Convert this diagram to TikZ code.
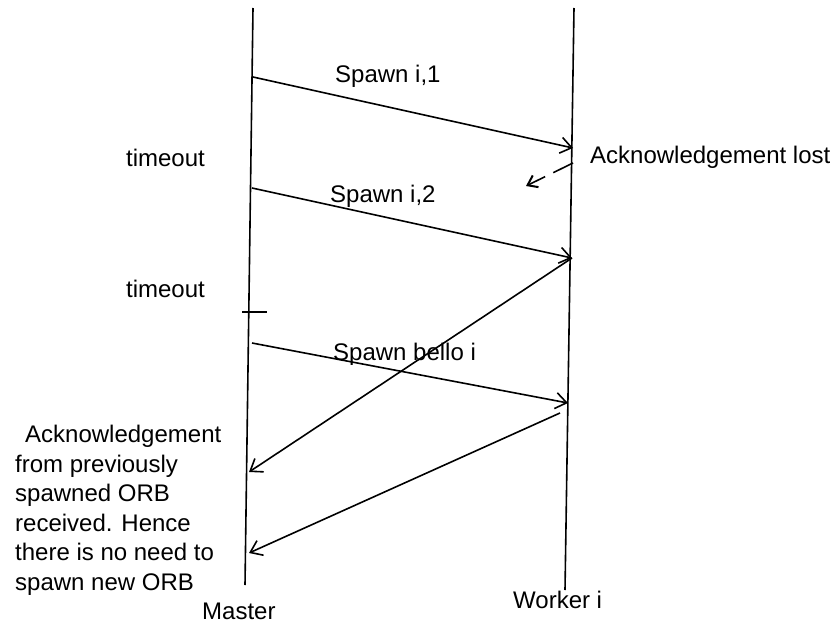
\documentclass[tikz,border=0pt]{standalone}
\usepackage{fontspec}
\setmainfont{Liberation Sans}
\usetikzlibrary{arrows.meta}
\tikzset{
  lifeline/.style={line width=1.6pt},
  msg/.style={line width=1.6pt,-{Straight Barb[length=11pt,width=16pt,line width=1.6pt]}},
  lostmsg/.style={line width=1.6pt,dash pattern=on 22pt off 9pt,-{Straight Barb[length=9pt,width=13pt,line width=2pt]}},
  lbl/.style={inner sep=0pt,font=\fontsize{24}{29.6}\selectfont},
}
\begin{document}
\begin{tikzpicture}[x=1pt,y=-1pt]
\path[use as bounding box] (0,0) rectangle (838,626);
% lifelines
\coordinate (mtop) at (253,8);
\coordinate (mbot) at (245,585);
\coordinate (wtop) at (574,8);
\coordinate (wbot) at (565,590);
\draw[lifeline] (mtop) -- (mbot);
\draw[lifeline] (wtop) -- (wbot);
% message end points
\coordinate (m1) at (253,77);
\coordinate (w1) at (573,148);
\coordinate (w1b) at (573,163);
\coordinate (lost) at (526,186);
\coordinate (m2) at (252,188);
\coordinate (w2) at (572,258);
\coordinate (m3) at (249,472);
\coordinate (m4) at (252,343);
\coordinate (w4) at (568,403);
\coordinate (w5) at (560,413);
\coordinate (m5) at (249,553);
\coordinate (tickl) at (242,312);
\coordinate (tickr) at (267,312);
% messages
\draw[msg] (m1) -- (w1);
\draw[lostmsg] (w1b) -- (lost);
\draw[msg] (m2) -- (w2);
\draw[msg] (w2) -- (m3);
\draw[msg] (m4) -- (w4);
\draw[msg] (w5) -- (m5);
\draw[lifeline] (tickl) -- (tickr);
% labels
\node[lbl,anchor=base west] (l1) at (335,82) {Spawn i,1};
\node[lbl,anchor=base east] (t1) at (205,166) {timeout};
\node[lbl,anchor=base west] (al) at (590,163) {Acknowledgement lost};
\node[lbl,anchor=base west] (l2) at (330,202) {Spawn i,2};
\node[lbl,anchor=base east] (t2) at (205,297) {timeout};
\node[lbl,anchor=base west] (l3) at (333,360) {Spawn bello i};
\node[lbl,anchor=north west,align=left] (ack) at (15,425) {\hspace*{10pt}Acknowledgement\\from previously\\spawned ORB\\received. Hence\\there is no need to\\spawn new ORB};
\node[lbl,anchor=base west] (ms) at (202,619) {Master};
\node[lbl,anchor=base west] (wk) at (513,608) {Worker i};
\end{tikzpicture}
\end{document}
